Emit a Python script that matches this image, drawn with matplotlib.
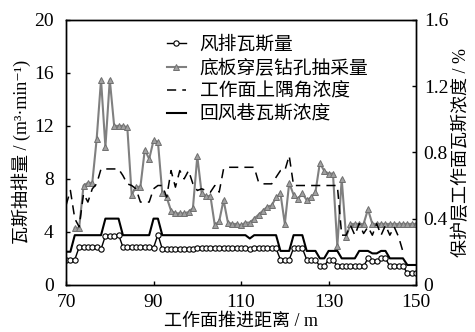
import matplotlib
matplotlib.use("Agg")
import matplotlib.pyplot as plt
import numpy as np

plt.rcParams['font.family'] = ['Liberation Serif', 'Noto Sans CJK SC', 'DejaVu Serif']

nan = np.nan

# advance distance (m), 1 m step
distance = list(range(70, 151))

# 底板穿层钻孔抽采量 (m3/min), left axis
drainage = [nan, nan, 4.3, 4.3, 7.5, 7.7, 7.7, 11.0, 15.5, 10.4,
            15.5, 12.0, 12.0, 12.0, 11.9, 6.8, 7.4, 7.4, 10.2, 9.5,
            10.9, 10.8, 6.9, 6.6, 5.6, 5.4, 5.4, 5.4, 5.5, 5.8,
            9.7, 6.9, 6.7, 6.7, 4.5, 4.8, 6.4, 4.7, 4.6, 4.6,
            4.5, 4.7, 4.7, 5.0, 5.3, 5.6, 5.9, 6.0, 6.6, 6.9,
            4.6, 7.7, 6.8, 6.5, 6.9, 6.4, 6.6, 7.0, 9.2, 8.6,
            8.4, 8.4, 2.9, 8.0, 3.6, 4.6, 4.6, 4.6, 4.6, 5.7,
            4.6, 4.6, 4.6, 4.6, 4.6, 4.6, 4.6, 4.6, 4.6, 4.6,
            4.6]

# 风排瓦斯量 (m3/min), left axis
ventilation = [1.9, 1.9, 1.9, 2.85, 2.85, 2.85, 2.85, 2.85, 2.7, 3.7,
               3.7, 3.7, 3.8, 2.85, 2.85, 2.85, 2.85, 2.85, 2.85, 2.85,
               2.8, 3.8, 2.7, 2.7, 2.7, 2.7, 2.7, 2.7, 2.7, 2.7,
               2.75, 2.75, 2.75, 2.75, 2.75, 2.75, 2.75, 2.75, 2.75, 2.75,
               2.75, 2.75, 2.7, 2.75, 2.75, 2.75, 2.75, 2.75, 2.75, 1.9,
               1.9, 1.9, 2.77, 2.77, 2.77, 1.9, 1.9, 1.9, 1.4, 1.4,
               1.9, 1.9, 1.4, 1.4, 1.4, 1.4, 1.4, 1.4, 1.4, 2.0,
               1.8, 1.8, 2.0, 2.0, 1.4, 1.4, 1.4, 1.4, 0.9, 0.9,
               0.9]

# 工作面上隅角浓度 (%), right axis
corner = [0.48, 0.57, 0.40, 0.35, 0.55, 0.50, 0.58, 0.61, 0.70, 0.70,
          0.70, 0.70, 0.70, 0.66, 0.61, 0.60, 0.58, 0.50, 0.50, 0.50,
          0.58, 0.60, 0.60, 0.53, 0.69, 0.59, 0.69, 0.64, 0.69, 0.61,
          0.57, 0.58, 0.57, 0.56, 0.60, 0.56, 0.70, 0.71, 0.71, 0.71,
          0.71, 0.71, 0.71, 0.71, 0.62, 0.61, 0.61, 0.61, 0.65, 0.69,
          0.69, 0.78, 0.60, 0.60, 0.60, 0.60, 0.60, 0.60, 0.60, 0.60,
          0.60, 0.60, 0.60, 0.30, 0.30, 0.36, 0.30, 0.37, 0.31, 0.35,
          0.30, 0.37, 0.30, 0.36, 0.30, 0.35, 0.29, 0.20, nan, nan,
          nan]

# 回风巷瓦斯浓度 (%), right axis
return_air = [0.20, 0.20, 0.30, 0.30, 0.30, 0.30, 0.30, 0.30, 0.30, 0.40,
              0.40, 0.40, 0.40, 0.30, 0.30, 0.30, 0.30, 0.30, 0.30, 0.30,
              0.40, 0.40, 0.30, 0.30, 0.30, 0.30, 0.30, 0.30, 0.30, 0.30,
              0.30, 0.30, 0.30, 0.30, 0.30, 0.30, 0.30, 0.30, 0.30, 0.30,
              0.30, 0.30, 0.28, 0.30, 0.30, 0.30, 0.30, 0.30, 0.30, 0.205,
              0.205, 0.205, 0.30, 0.30, 0.30, 0.205, 0.205, 0.205, 0.16, 0.16,
              0.205, 0.205, 0.205, 0.16, 0.16, 0.16, 0.16, 0.205, 0.205, 0.205,
              0.19, 0.19, 0.205, 0.205, 0.16, 0.16, 0.16, 0.16, 0.12, 0.12,
              0.12]

fig = plt.figure(figsize=(4.75, 3.32), dpi=100)
ax = fig.add_axes([0.139, 0.142, 0.737, 0.798])
ax2 = ax.twinx()

l1, = ax.plot(distance, ventilation, color='black', lw=1.0, marker='o', ms=3.8,
              mfc='white', mec='black', mew=0.8, label='风排瓦斯量')
l2, = ax.plot(distance, drainage, color='#808080', lw=1.5, marker='^', ms=3.8,
              mfc='#a0a0a0', mec='#707070', mew=0.7, label='底板穿层钻孔抽采量')
l3, = ax2.plot(distance, corner, color='black', lw=1.1, dashes=(6, 4),
               label='工作面上隅角浓度')
l4, = ax2.plot(distance, return_air, color='black', lw=1.5,
               label='回风巷瓦斯浓度')

ax.set_xlim(70, 150)
ax.set_ylim(0, 20)
ax2.set_ylim(0, 1.6)
ax.set_xticks([70, 90, 110, 130, 150])
ax.set_yticks([0, 4, 8, 12, 16, 20])
ax2.set_yticks([0, 0.4, 0.8, 1.2, 1.6])
ax2.set_yticklabels(['0', '0.4', '0.8', '1.2', '1.6'])

for a in (ax, ax2):
    a.tick_params(direction='in', length=3, width=1, labelsize=14)
    for s in a.spines.values():
        s.set_linewidth(1.0)
ax.tick_params(axis='x', pad=6.5)
ax.tick_params(axis='y', pad=9)
ax2.tick_params(axis='y', pad=5.5)

ax.set_xlabel('工作面推进距离 / m', fontsize=13, labelpad=1)
ax.set_ylabel('瓦斯抽排量 / (m³·min⁻¹)', fontsize=13, labelpad=2)
ax2.set_ylabel('保护层工作面瓦斯浓度 / %', fontsize=13, labelpad=3)

ax.legend(handles=[l1, l2, l3, l4], loc='upper left',
          bbox_to_anchor=(0.245, 0.995), frameon=False, fontsize=13.5,
          handlelength=1.0, handletextpad=0.75, labelspacing=0.3,
          borderpad=0.3)

fig.savefig('out.png', dpi=100)
